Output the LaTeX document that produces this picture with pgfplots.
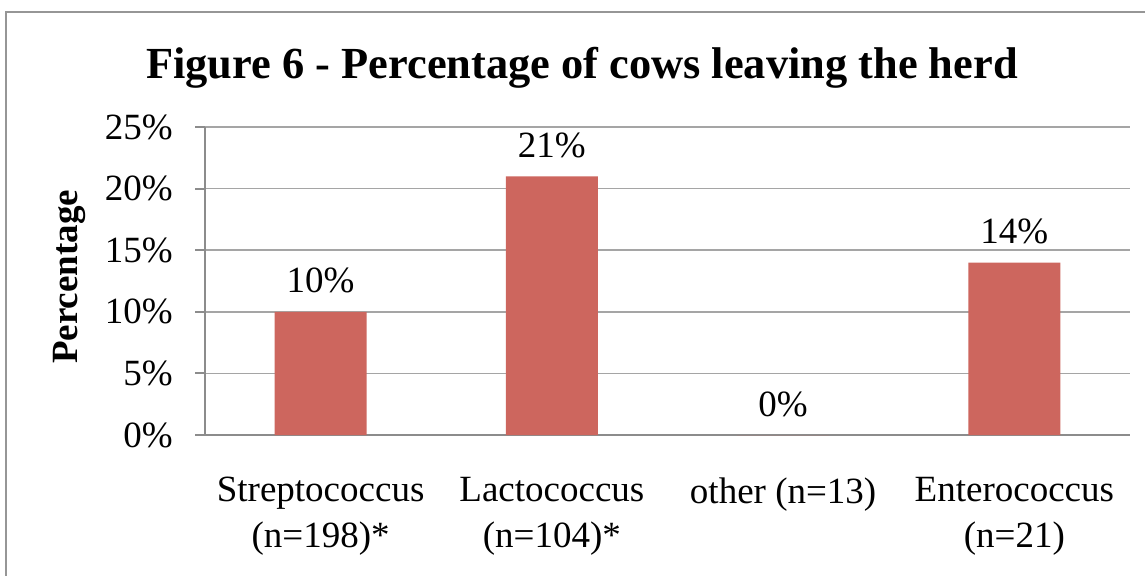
\documentclass[border=0pt]{standalone}
\usepackage{pgfplots}
\pgfplotsset{compat=1.18}
\usepackage{fontspec}
\setmainfont{Liberation Serif}
\definecolor{barred}{RGB}{205,102,94}
\definecolor{gridgray}{RGB}{165,165,165}
\definecolor{axgray}{RGB}{140,140,140}
\definecolor{framegray}{RGB}{150,150,150}
\begin{document}
\begin{tikzpicture}[x=0.5pt,y=0.5pt]
\useasboundingbox (0,0) rectangle (1145,575);
\draw[framegray,line width=1.2pt] (6,-10) -- (6,563) -- (1160,563);
\node[anchor=base,font=\fontsize{22.2}{26}\selectfont\bfseries] at (582,497) {Figure 6 - Percentage of cows leaving the herd};
\node[anchor=base,rotate=90,font=\fontsize{18.5}{22}\selectfont\bfseries] at (77,298) {Percentage};
\begin{axis}[
  at={(102.5pt,70pt)}, anchor=south west,
  scale only axis, width=462.5pt, height=154pt,
  xmin=-0.5, xmax=3.5, ymin=0, ymax=25,
  ytick={0,5,10,15,20,25},
  yticklabel={\pgfmathprintnumber{\tick}\%},
  /pgf/number format/assume math mode=true,
  xtick={0,1,2,3},
  xticklabels={{Streptococcus\\(n=198)*},{Lactococcus\\(n=104)*},{other (n=13)},{Enterococcus\\(n=21)}},
  minor xtick={-0.5,0.5,1.5,2.5,3.5},
  xtick style={draw=none},
  minor x tick style={axgray,line width=1pt},
  ytick style={axgray,line width=1pt},
  tick align=outside,
  major tick length=5pt, minor tick length=5pt,
  ymajorgrids, grid style={gridgray,line width=0.8pt},
  axis line style={axgray,line width=1pt},
  axis x line*=bottom, axis y line*=left,
  y axis line style={-}, x axis line style={-},
  tick label style={font=\fontsize{18.5}{23}\selectfont},
  xticklabel style={align=center,anchor=north,inner sep=0pt,yshift=-16pt},
  yticklabel style={anchor=east,inner sep=0pt,xshift=-11pt},
  ybar, bar width=46pt,
  nodes near coords={\pgfmathprintnumber{\pgfplotspointmeta}\%},
  nodes near coords style={font=\fontsize{18.5}{23}\selectfont,anchor=base,inner sep=0pt,yshift=9.5pt},
  clip=false,
]
\addplot[fill=barred,draw=none] coordinates {(0,10) (1,21) (2,0) (3,14)};
\end{axis}
\end{tikzpicture}
\end{document}
